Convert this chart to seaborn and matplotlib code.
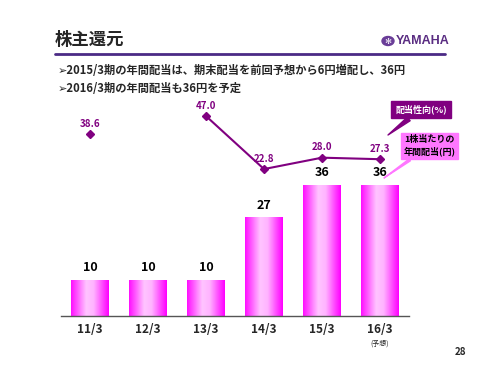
import numpy as np
import pandas as pd
import seaborn as sns
import matplotlib.pyplot as plt
from matplotlib.colors import LinearSegmentedColormap
from matplotlib.lines import Line2D
from matplotlib.patches import Circle

# Data
years = ["11/3", "12/3", "13/3", "14/3", "15/3", "16/3"]
dividend = [10, 10, 10, 27, 36, 36]          # 1株当たりの年間配当(円)
payout = [38.6, np.nan, 47.0, 22.8, 28.0, 27.3]  # 配当性向(%)

sns.set_style("white")
plt.rcParams["font.family"] = ["Noto Sans CJK JP", "DejaVu Sans"]

PURPLE = "#800080"
DARK_PURPLE = "#4B2A85"

fig = plt.figure(figsize=(5, 3.75), dpi=100)
fig.patch.set_facecolor("white")
ax = fig.add_axes([0.122, 0.1573, 0.696, 0.584])

df = pd.DataFrame({"year": years, "dividend": dividend})
sns.barplot(data=df, x="year", y="dividend", color="#FF00FF", width=0.655,
            saturation=1, ax=ax, zorder=2)

# horizontal gradient fill on each bar
cmap = LinearSegmentedColormap.from_list(
    "bar", [(0, "#FF10FF"), (0.4, "#FFC4FF"), (0.6, "#FFB4FF"), (1, "#FF00FF")])
grad = np.linspace(0, 1, 64).reshape(1, -1)
for p in ax.patches:
    x0, y0 = p.get_xy()
    w, h = p.get_width(), p.get_height()
    im = ax.imshow(grad, extent=[x0, x0 + w, y0, y0 + h], aspect="auto",
                   cmap=cmap, zorder=2.1)
    im.set_clip_path(p)

ax.set_xlim(-0.5, 5.5)
ax.set_ylim(0, 60)

for i, v in enumerate(dividend):
    ax.annotate(str(v), (i, v), xytext=(0, 4), textcoords="offset points",
                ha="center", va="bottom", fontsize=9, fontweight="bold",
                color="black")

# axis styling
for s in ["top", "right", "left"]:
    ax.spines[s].set_visible(False)
ax.spines["bottom"].set_color("#555555")
ax.spines["bottom"].set_linewidth(1)
ax.set_yticks([])
ax.set_xlabel("")
ax.set_ylabel("")
ax.set_xticks(range(len(years)))
ax.set_xticklabels(years, fontsize=8.5, fontweight="bold")
ax.set_xticks(np.arange(-0.5, 6, 1), minor=True)
ax.tick_params(axis="x", which="major", length=0, pad=5)
ax.tick_params(axis="x", which="minor", length=3.5, direction="inout",
               color="#555555", width=1)
ax.text(5, -0.125, "(予想)", transform=ax.get_xaxis_transform(),
        ha="center", va="center", fontsize=5)

# payout ratio line on twin axis
ax2 = ax.twinx()
ax2.set_ylim(-44.3, 55.7)
ax2.plot(range(len(years)), payout, color=PURPLE, lw=1.5, marker="D",
         markersize=4.5, zorder=5)
for i, v in enumerate(payout):
    if not np.isnan(v):
        ax2.annotate(f"{v:.1f}", (i, v), xytext=(0, 4),
                     textcoords="offset points", ha="center", va="bottom",
                     fontsize=7, fontweight="bold", color=PURPLE)
ax2.set_yticks([])
for s in ax2.spines.values():
    s.set_visible(False)

# callouts
fig.add_artist(plt.Annotation(
    "配当性向(%)", xy=(388, 240), xycoords="figure pixels",
    xytext=(421, 265.5), textcoords="figure pixels",
    ha="center", va="center", fontsize=6.5, fontweight="bold", color="white",
    bbox=dict(boxstyle="square,pad=0.45", fc=PURPLE, ec=PURPLE),
    arrowprops=dict(arrowstyle="wedge,tail_width=0.5,shrink_factor=0.5",
                    fc=PURPLE, ec=PURPLE, shrinkA=0, shrinkB=0)))
fig.add_artist(plt.Annotation(
    "1株当たりの\n年間配当(円)", xy=(384, 197), xycoords="figure pixels",
    xytext=(429.5, 229), textcoords="figure pixels",
    ha="center", va="center", fontsize=6.5, fontweight="bold", color="black",
    linespacing=1.3,
    bbox=dict(boxstyle="square,pad=0.3", fc="#FF77FF", ec="#FF77FF"),
    arrowprops=dict(arrowstyle="wedge,tail_width=0.25,shrink_factor=0.5",
                    fc="#FF77FF", ec="#FF77FF", shrinkA=0, shrinkB=0)))

# slide header
fig.text(55 / 500, 1 - 40 / 375, "株主還元", fontsize=12.5, fontweight="bold",
         va="center", ha="left")
fig.add_artist(Line2D([55 / 500, 445 / 500], [1 - 54 / 375] * 2,
                      color=DARK_PURPLE, lw=2))
fig.add_artist(Circle((388 / 500, 1 - 41 / 375), 0.012, color="#6A3D98",
                      transform=fig.transFigure))
fig.text(388 / 500, 1 - 41 / 375, "✻", fontsize=6, color="white",
         ha="center", va="center", family=["DejaVu Sans"])
fig.text(396 / 500, 1 - 41 / 375, "YAMAHA", fontsize=9, fontweight="bold",
         color="#5A2D82", va="center", ha="left",
         family=["Liberation Sans Narrow", "Liberation Sans"])

fig.text(58 / 500, 1 - 71 / 375,
         "➢2015/3期の年間配当は、期末配当を前回予想から6円増配し、36円",
         fontsize=8.1, fontweight="bold", va="center", ha="left")
fig.text(58 / 500, 1 - 89 / 375, "➢2016/3期の年間配当も36円を予定",
         fontsize=8.1, fontweight="bold", va="center", ha="left")

fig.text(455 / 500, 1 - 352 / 375, "28", fontsize=7, fontweight="bold",
         va="center", ha="left")

fig.savefig("out.png", dpi=100)
